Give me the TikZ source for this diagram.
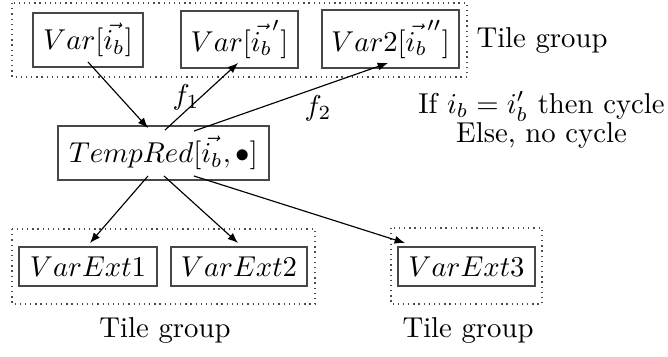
\documentclass[tikz,border=0pt]{standalone}
\usetikzlibrary{arrows.meta,calc}
\begin{document}
\begin{tikzpicture}[x=0.348pt,y=-0.348pt,
  box/.style={draw=black!72,line width=0.38pt,inner sep=0pt,anchor=center},
  grp/.style={draw=black!70,line width=0.5pt,dash pattern=on 0.45pt off 1.35pt},
  arr/.style={line width=0.4pt,-{Latex[length=3.6pt,width=2.8pt]}},
  lbl/.style={inner sep=0pt,anchor=center}]
\useasboundingbox (0,0) rectangle (668,356);
% groups
\draw[grp] (12,3) rectangle (467,77);
\draw[grp] (12,229) rectangle (315,304);
\draw[grp] (391,228) rectangle (542,304);
% nodes
\node[box,minimum width=110*0.348pt,minimum height=54*0.348pt] (v1) at (88,40) {$Var[\vec{i_b}]$};
\node[box,minimum width=117*0.348pt,minimum height=57*0.348pt] (v2) at (239.5,39.5) {$Var[\vec{i_b}']$};
\node[box,minimum width=137*0.348pt,minimum height=58*0.348pt] (v3) at (390.5,39) {$Var2[\vec{i_b}'']$};
\node[box,minimum width=211*0.348pt,minimum height=54*0.348pt] (temp) at (163.5,153) {$TempRed[\vec{i_b},\bullet]$};
\node[box,minimum width=138*0.348pt,minimum height=39*0.348pt] (e1) at (88,266.5) {$VarExt1$};
\node[box,minimum width=136*0.348pt,minimum height=39*0.348pt] (e2) at (239,266.5) {$VarExt2$};
\node[box,minimum width=137*0.348pt,minimum height=39*0.348pt] (e3) at (466.5,266.5) {$VarExt3$};
% labels
\node[lbl] (tg1) at (542,40) {Tile group};
\node[lbl] (tg2) at (165,330) {Tile group};
\node[lbl] (tg3) at (468,330) {Tile group};
\node[lbl] (f1) at (186,97) {$f_1$};
\node[lbl] (f2) at (318,108) {$f_2$};
\node[lbl,anchor=base] (cond1) at (541.5,113) {If $i_b=i'_b$ then cycle};
\node[lbl,anchor=base] (cond2) at (541.5,142) {Else, no cycle};
% edges
\draw[arr] ($(v1.center)+(0,22)$) -- ($(temp.center)+(-15.5,-25)$);
\draw[arr] ($(temp.center)+(1.5,-23)$) -- ($(v2.center)+(-1.5,23.5)$);
\draw[arr] ($(temp.center)+(30.5,-22)$) -- ($(v3.center)+(-2.5,24)$);
\draw[arr] ($(temp.center)+(-15.5,23)$) -- ($(e1.center)+(2,-23.5)$);
\draw[arr] ($(temp.center)+(0.5,23)$) -- ($(e2.center)+(-1,-23.5)$);
\draw[arr] ($(temp.center)+(30.5,23)$) -- ($(e3.center)+(-61.5,-23.5)$);
\end{tikzpicture}
\end{document}
